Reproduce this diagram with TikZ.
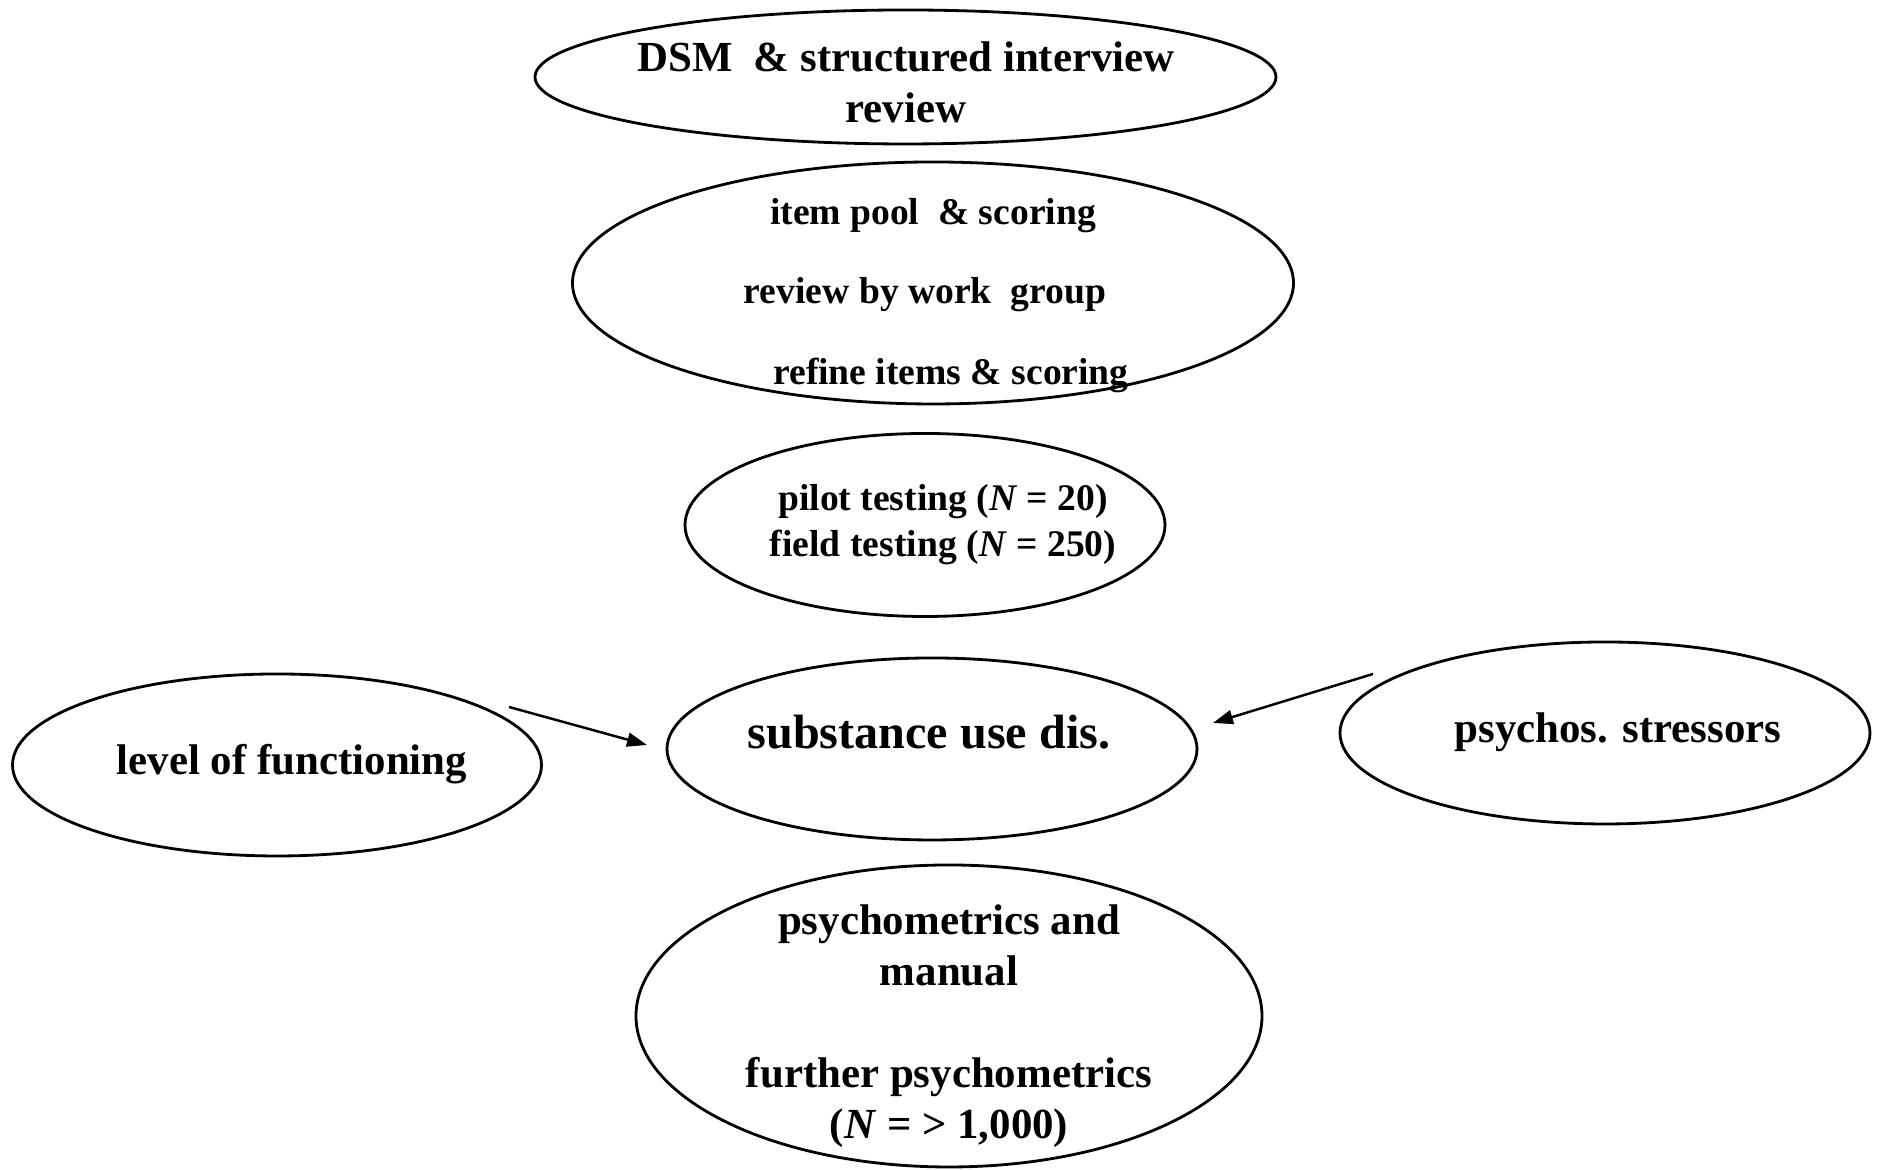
\documentclass[tikz,border=0pt]{standalone}
\usepackage{fontspec}
\setmainfont{Liberation Serif}
\usetikzlibrary{arrows.meta,shapes.geometric}

\begin{document}
\begin{tikzpicture}[
    oval/.style={draw, ellipse, line width=0.8pt, inner sep=0pt},
    big/.style={font=\bfseries\fontsize{12.2}{14.5}\selectfont, align=center, inner sep=0pt},
    small/.style={font=\bfseries\fontsize{10.7}{13.1}\selectfont, align=center, inner sep=0pt},
    arr/.style={-{Triangle[length=0.2cm,width=0.14cm]}, line width=0.7pt}]
    \useasboundingbox (0,0) rectangle (18.78,11.70);
    % the ovals
    \node[oval, minimum width=7.41cm, minimum height=1.34cm] (dsm) at (9.055,10.93) {};
    \node[oval, minimum width=7.21cm, minimum height=2.42cm] (pool) at (9.33,8.87) {};
    \node[oval, minimum width=4.80cm, minimum height=1.83cm] (pilot) at (9.25,6.45) {};
    \node[oval, minimum width=5.30cm, minimum height=1.82cm] (sud) at (9.32,4.21) {};
    \node[oval, minimum width=5.29cm, minimum height=1.82cm] (lof) at (2.77,4.05) {};
    \node[oval, minimum width=5.30cm, minimum height=1.82cm] (pss) at (16.05,4.37) {};
    \node[oval, minimum width=6.26cm, minimum height=3.02cm] (psy) at (9.49,1.54) {};
    % texts
    \node[big] (dsmtxt) at (9.06,10.88) {DSM~ \& structured interview\\review};
    \node[small] (pooltxt1) at (9.33,9.54) {item pool~ \& scoring};
    \node[small] (pooltxt2) at (9.25,8.75) {review by work~ group};
    \node[small] (pooltxt3) at (9.51,7.95) {refine items \& scoring};
    \node[small] (pilottxt) at (9.43,6.45) {pilot testing (\textit{N} = 20)\\field testing (\textit{N} = 250)};
    \node[big, font=\bfseries\fontsize{13.7}{16}\selectfont] (sudtxt) at (9.29,4.38) {substance use dis.};
    \node[big] (loftxt) at (2.92,4.06) {level of functioning};
    \node[big] (psstxt) at (16.18,4.38) {psychos. stressors};
    \node[big] (psytxt) at (9.49,1.44) {psychometrics and\\manual\\[14.5pt]further psychometrics\\(\textit{N} = > 1,000)};
    % arrows
    \coordinate (lofout) at (5.09,4.63);
    \coordinate (sudinl) at (6.47,4.25);
    \coordinate (pssout) at (13.73,4.96);
    \coordinate (sudinr) at (12.13,4.47);
    \draw[arr] (lofout) -- (sudinl);
    \draw[arr] (pssout) -- (sudinr);
\end{tikzpicture}
\end{document}
